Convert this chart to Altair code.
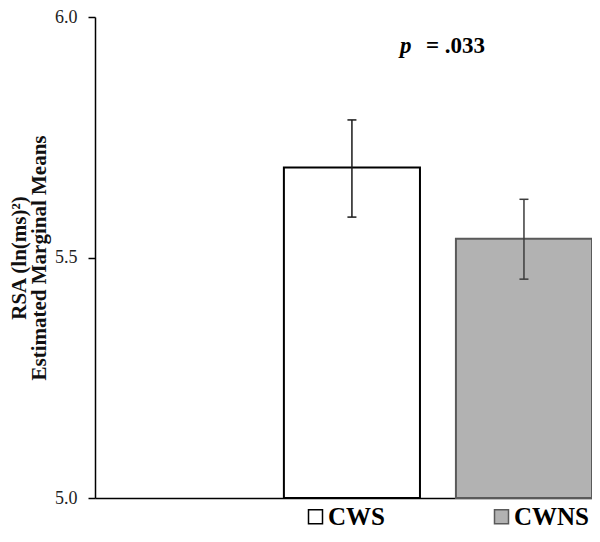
import altair as alt
import pandas as pd

groups = ["CWS", "CWNS"]
means = [5.687, 5.539]
ci_low = [5.584, 5.455]
ci_high = [5.786, 5.621]
fills = ["#ffffff", "#b2b2b2"]
strokes = ["#000000", "#5a5a5a"]
err_colors = ["#1a1a1a", "#3c3c3c"]
y_ticks = [5.0, 5.5, 6.0]
y_title = ["RSA (ln(ms)²)", "Estimated Marginal Means"]
p_group = ["CWS"]
p_y = [5.925]
p_label = ["p"]
p_value = ["= .033"]

df = pd.DataFrame({"group": groups, "mean": means, "lo": ci_low, "hi": ci_high})
ann = pd.DataFrame({"group": p_group, "y": p_y, "p": p_label, "v": p_value})

xscale = alt.Scale(domain=groups, paddingInner=0.209, paddingOuter=0.549, align=1)
yscale = alt.Scale(domain=[5.0, 6.0], zero=False, nice=False)

x_enc = alt.X("group:N", scale=xscale,
              axis=alt.Axis(labels=False, ticks=False, title=None,
                            domainColor="#000000", domainWidth=1.5))

legend_def = alt.Legend(orient="none", legendX=208, legendY=487, direction="horizontal",
                        title=None, symbolType="square", symbolSize=196,
                        symbolStrokeWidth=1.5, labelFont="Liberation Serif",
                        labelFontWeight="bold", labelFontSize=25, labelColor="#000000",
                        labelOffset=0, columnPadding=104, padding=0)

err_color = alt.Color("group:N", scale=alt.Scale(domain=groups, range=err_colors), legend=None)

bars = alt.Chart(df).mark_bar(strokeWidth=2).encode(
    x=x_enc,
    y=alt.Y("mean:Q", scale=yscale,
            axis=alt.Axis(values=y_ticks, format=".1f", title=y_title,
                          labelFontSize=18, labelColor="#222222", labelPadding=11,
                          tickSize=7, tickColor="#000000", tickWidth=1.5,
                          domainColor="#000000", domainWidth=1.5,
                          titleFontSize=21, titleFontWeight="bold", titleColor="#111111",
                          titlePadding=5, titleLineHeight=20)),
    y2=alt.datum(5.0),
    fill=alt.Fill("group:N", scale=alt.Scale(domain=groups, range=fills), legend=legend_def),
    stroke=alt.Stroke("group:N", scale=alt.Scale(domain=groups, range=strokes), legend=legend_def),
)

rules = alt.Chart(df).mark_rule(strokeWidth=1.5).encode(
    x=x_enc, y=alt.Y("lo:Q", scale=yscale), y2="hi:Q", color=err_color)
cap_hi = alt.Chart(df).mark_tick(size=9, thickness=1.5, opacity=1).encode(
    x=x_enc, y=alt.Y("hi:Q", scale=yscale), color=err_color)
cap_lo = alt.Chart(df).mark_tick(size=9, thickness=1.5, opacity=1).encode(
    x=x_enc, y=alt.Y("lo:Q", scale=yscale), color=err_color)

ptext = alt.Chart(ann).mark_text(font="Liberation Serif", fontSize=23, fontWeight="bold",
                                 fontStyle="italic", align="left", baseline="alphabetic",
                                 dx=-20, color="#000000").encode(
    x=alt.X("group:N", scale=xscale, bandPosition=1),
    y=alt.Y("y:Q", scale=yscale), text="p:N")
vtext = alt.Chart(ann).mark_text(font="Liberation Serif", fontSize=23, fontWeight="bold",
                                 align="left", baseline="alphabetic",
                                 dx=6, color="#000000").encode(
    x=alt.X("group:N", scale=xscale, bandPosition=1),
    y=alt.Y("y:Q", scale=yscale), text="v:N")

chart = alt.layer(bars, rules, cap_hi, cap_lo, ptext, vtext).properties(
    width=497, height=481,
    padding={"left": 87, "top": 9, "right": 0, "bottom": 32},
    autosize="none",
).configure(font="Liberation Serif").configure_view(stroke=None).configure_axis(grid=False)

chart.save("out.html", embed_options={"renderer": "svg", "actions": False})
